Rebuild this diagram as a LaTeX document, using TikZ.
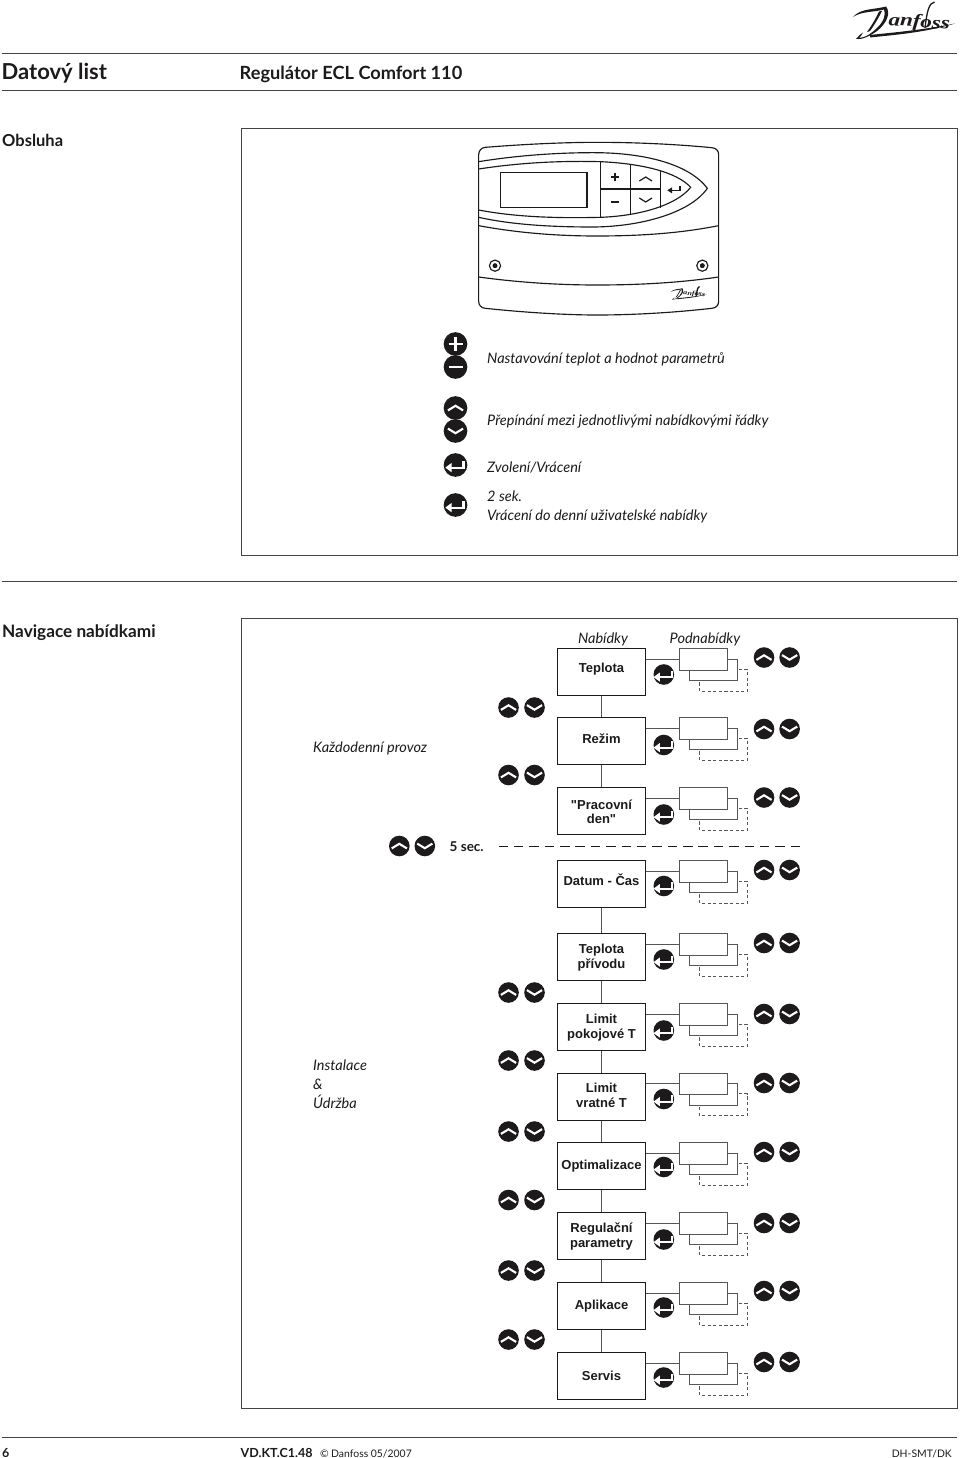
\documentclass[tikz,border=0pt]{standalone}
\usepackage{fontspec}
\setmainfont{Lato}
\newfontfamily\boxfont{Liberation Sans}
\newfontfamily\logofont{Liberation Serif}
\definecolor{ink}{HTML}{1C1A1B}
\definecolor{rule}{HTML}{444444}
\definecolor{conn}{HTML}{555555}
\tikzset{
  btn/.style={circle,fill=ink,draw=none,inner sep=0pt,minimum size={#1*20.6pt}},
  upbtn/.style={btn=#1,path picture={\draw[white,line width=2.1pt,shift={(path picture bounding box.center)},scale=#1] (-7.6,2.4) -- (0,-2.2) -- (7.6,2.4);}},
  upbtn/.default=1,
  downbtn/.style={btn=#1,path picture={\draw[white,line width=2.1pt,shift={(path picture bounding box.center)},scale=#1] (-7.6,-2.4) -- (0,2.2) -- (7.6,-2.4);}},
  downbtn/.default=1,
  enterbtn/.style={btn=#1,path picture={\begin{scope}[shift={(path picture bounding box.center)},scale=#1]\draw[white,line width=2.1pt] (-5,2.6) -- (8,2.6) -- (8,-3.8);\fill[white] (-10.2,2.6) -- (-4,-2) -- (-4,7.2) -- cycle;\end{scope}}},
  enterbtn/.default=1,
  plusbtn/.style={btn=#1,path picture={\draw[white,line width=2.8pt,shift={(path picture bounding box.center)},scale=#1] (-7,0) -- (7,0) (0,-7) -- (0,7);}},
  plusbtn/.default=1,
  minusbtn/.style={btn=#1,path picture={\draw[white,line width=2.8pt,shift={(path picture bounding box.center)},scale=#1] (-7,0) -- (7,0);}},
  minusbtn/.default=1,
  hrule/.style={draw=rule,line width=1pt},
  frame/.style={draw=rule,line width=1.1pt},
  menubox/.style={draw=ink,line width=1pt,fill=white,minimum width=88.5pt,minimum height=47pt,inner sep=0pt},
  menutext/.style={inner sep=0pt,align=center,text=ink,font=\boxfont\bfseries\fontsize{13}{14.8}\selectfont},
  subbox/.style={draw=conn,line width=1pt,fill=white,minimum width=48pt,minimum height=21.5pt,inner sep=0pt},
  chain/.style={draw=conn,line width=1.1pt},
  feed/.style={draw=conn,line width=1pt},
  dashsub/.style={draw=conn,line width=.9pt,dash pattern=on 3.2pt off 2.4pt},
  sepline/.style={draw=ink,line width=1.1pt,dash pattern=on 9.5pt off 5.875pt},
  lbl/.style={anchor=base west,inner sep=0pt,text=ink,font=\itshape\fontsize{14.5}{16}\selectfont},
  lblc/.style={anchor=base,inner sep=0pt,text=ink,font=\itshape\fontsize{14.5}{16}\selectfont},
  head/.style={anchor=base west,inner sep=0pt,text=ink,font=\bfseries\fontsize{#1}{#1}\selectfont},
  foot/.style={anchor=base west,inner sep=0pt,text=ink,font=\fontsize{10.4}{13}\selectfont},
  ctrl/.style={draw=ink,line width=1.15pt},
  pics/danfoss/.style={code={
    \fill[ink] (0,14) .. controls (8,5) and (20,7) .. (33,3.5) .. controls (38,10) and (34,20) .. (24,28) .. controls (17,33) and (9,37) .. (3,36) .. controls (5,33) and (8,31) .. (10,29.5) .. controls (9,32) and (7,34) .. (6,35) .. controls (12,35) and (19,30) .. (25,24) .. controls (31,18) and (33,11) .. (31,6.5) .. controls (20,9.5) and (9,8) .. (0,14) -- cycle;
    \fill[ink] (26,8.5) .. controls (23,15) and (19,22) .. (14,29) -- (17,28) .. controls (22,21) and (26,14) .. (29,8) -- cycle;
    \fill[ink] (17,32) .. controls (40,29.5) and (70,27) .. (102,20.5) .. controls (70,30) and (40,32) .. (17,34.5) -- cycle;
    \draw[ink,line width=1.3pt] (81.5,-1) .. controls (76,0) and (74,8) .. (72,25);
    \node[transform shape,anchor=base west,inner sep=0pt,rotate=-4,xscale=1.28,text=ink,font=\logofont\bfseries\itshape\fontsize{#1}{#1}\selectfont] (logoword) at (35,22) {anfoss};
  }}
}
\begin{document}
\begin{tikzpicture}[x=1pt,y=-1pt]
\useasboundingbox (0,0) rectangle (960,1458);
% rules
\coordinate (r1a) at (2,53.5); \coordinate (r1b) at (957,53.5);
\coordinate (r2a) at (2,90.3); \coordinate (r2b) at (957,90.3);
\coordinate (r3a) at (2,581.7); \coordinate (r3b) at (957,581.7);
\coordinate (r4a) at (2,1437.5); \coordinate (r4b) at (957,1437.5);
\draw[hrule] (r1a) -- (r1b);
\draw[hrule] (r2a) -- (r2b);
\draw[hrule] (r3a) -- (r3b);
\draw[hrule] (r4a) -- (r4b);
\pic at (853,3) {danfoss=18};
% headings
\node[head=22] (hData) at (1.5,79.5) {Datový list};
\node[head=18.2] (hReg) at (239.5,79.5) {Regulátor ECL Comfort 110};
\node[head=16.5] (hObs) at (2,146.5) {Obsluha};
\node[head=17.2] (hNav) at (2,637.5) {Navigace nabídkami};
% frames
\node[frame,minimum width=716pt,minimum height=427pt,inner sep=0pt,anchor=north west] (frameA) at (241,128) {};
\node[frame,minimum width=716pt,minimum height=790pt,inner sep=0pt,anchor=north west] (frameB) at (241,618.3) {};
% controller
\begin{scope}[shift={(460,130)},x=.33333pt,y=-.33333pt]
\draw[ctrl] (76,52) .. controls (200,42) and (320,37) .. (410,37) .. controls (520,37) and (640,42) .. (755,53) .. controls (768,54) and (776,62) .. (776,74) -- (776,514) .. controls (776,526) and (768,534) .. (755,535) .. controls (640,548) and (520,555) .. (410,555) .. controls (320,555) and (200,548) .. (76,535) .. controls (64,534) and (56,526) .. (56,514) -- (56,74) .. controls (56,62) and (64,53) .. (76,52) -- cycle;
\draw[ctrl] (56,95) .. controls (180,75) and (300,68) .. (400,68) .. controls (560,68) and (690,105) .. (742,175) .. controls (690,250) and (540,290) .. (400,291) .. controls (280,291) and (160,285) .. (56,262);
\draw[ctrl] (56,117) .. controls (180,98) and (300,92) .. (420,95) .. controls (540,100) and (650,125) .. (692,172) .. controls (650,225) and (540,258) .. (420,262) .. controls (300,265) and (170,262) .. (56,240);
\draw[ctrl] (122,127) rectangle (381,232);
\draw[ctrl] (421,97) -- (421,260);
\draw[ctrl] (511,105) -- (511,252);
\draw[ctrl] (601,124) -- (601,235);
\draw[ctrl] (421,177) -- (601,177);
\draw[line width=1.7pt,draw=ink] (453,140) -- (478,140) (465.5,128) -- (465.5,152);
\draw[line width=1.7pt,draw=ink] (453,217) -- (478,217);
\draw[line width=1.2pt,draw=ink] (538,153) -- (557,141) -- (576,153);
\draw[line width=1.2pt,draw=ink] (538,204) -- (557,216) -- (576,204);
\draw[line width=1.3pt,draw=ink] (632,181) -- (660,181) -- (660,168);
\fill[ink] (622,181) -- (636,172) -- (636,190) -- cycle;
\draw[ctrl] (56,287) .. controls (180,310) and (300,318) .. (410,318) .. controls (540,318) and (660,310) .. (776,287);
\draw[ctrl] (56,441) .. controls (180,458) and (300,465) .. (410,465) .. controls (540,465) and (660,458) .. (776,441);
\draw[ctrl] (105,407) circle[radius=5.6pt];
\fill[ink] (105,407) circle[radius=2.5pt];
\draw[ctrl] (727,407) circle[radius=5.6pt];
\fill[ink] (727,407) circle[radius=2.5pt];
\end{scope}
\pic[scale=.355] at (670.7,287) {danfoss=18};
% legend
\node[plusbtn=1.15] (bPlus) at (455.5,344) {};
\node[minusbtn=1.15] (bMinus) at (455.5,367) {};
\node[upbtn=1.15] (bUp) at (455.5,408) {};
\node[downbtn=1.15] (bDown) at (455.5,431) {};
\node[enterbtn=1.15] (bEntA) at (455.5,465) {};
\node[enterbtn=1.15] (bEntB) at (455.5,505) {};
\node[lbl] (tA) at (487,363) {Nastavování teplot a hodnot parametrů};
\node[lbl] (tB) at (487,425.5) {Přepínání mezi jednotlivými nabídkovými řádky};
\node[lbl] (tC) at (487,472.5) {Zvolení/Vrácení};
\node[lbl] (tD) at (487,501.5) {2 sek.};
\node[lbl] (tE) at (487,520) {Vrácení do denní uživatelské nabídky};
% navigation labels
\node[lblc] (tNab) at (603,643) {Nabídky};
\node[lblc] (tPod) at (705,643) {Podnabídky};
\node[lbl] (tKazd) at (313,752.5) {Každodenní provoz};
\node[lbl] (tIns) at (313,1070.5) {Instalace};
\node[lbl] (tAmp) at (313,1089.5) {\&};
\node[lbl] (tUdr) at (313,1108) {Údržba};
% menu rows
\foreach \n/\t/\e/\u/\o/\l in {
 1/648/674.5/657.5/3.2/{Teplota},
 2/717/745/729/1.8/{Režim},
 3/787/814.5/797.5/-0.7/{"Pracovní\\den"},
 4/860/886/870/4/{Datum - Čas},
 5/933/959.5/943/-0.7/{Teplota\\přívodu},
 6/1003/1030.5/1014/-0.5/{Limit\\pokojové T},
 7/1072.5/1099/1083/1.2/{Limit\\vratné T},
 8/1142/1167/1152/0/{Optimalizace},
 9/1212/1239.5/1223/-0.5/{Regulační\\parametry},
 10/1282/1307.5/1291/0/{Aplikace},
 11/1352/1377.5/1362/0.3/{Servis}}{
  \node[menubox,anchor=north] (m\n) at (601.5,\t) {};
  \node[menutext] (mt\n) at ([yshift=\o pt]m\n.center) {\l};
  \node[subbox,anchor=north west] (sb\n) at (688.5,\t+10.7) {};
  \node[subbox,anchor=north west] (sa\n) at (679,\t) {};
  \draw[feed] (sa\n.west) -- (sa\n.west -| m\n.east);
  \draw[dashsub] ([shift={(1,10.7)}]sb\n.north east) -- ++(8.7,0) -- ++(0,22) -- ++(-47.5,0) -- ++(0,-10.8);
  \node[enterbtn] (e\n) at (663.8,\e) {};
  \node[upbtn] (u\n) at (764,\u) {};
  \node[downbtn] (d\n) at (789.6,\u) {};
}
% chain
\foreach \a/\b in {1/2,2/3,4/5,5/6,6/7,7/8,8/9,9/10,10/11}{
  \draw[chain] (m\a.south) -- (m\b.north);
}
% left button pairs
\foreach \i/\y in {1/707.5,2/775,3/992.5,4/1060.5,5/1131.5,6/1200,7/1270.5,8/1339.5}{
  \node[upbtn] (lu\i) at (508.5,\y) {};
  \node[downbtn] (ld\i) at (534.5,\y) {};
}
% 5 sec
\node[upbtn] (su) at (399.3,846) {};
\node[downbtn] (sd) at (424.8,846) {};
\node[head=13.5] (t5s) at (449.5,851) {5 sec.};
\coordinate (sepA) at (498.5,846.3);
\coordinate (sepB) at (800,846.3);
\draw[sepline] (sepA) -- (sepB);
% footer
\node[head=12.5] (f6) at (2,1457) {6};
\node[head=12.5] (fVD) at (240.5,1457) {VD.KT.C1.48};
\node[foot] (fCop) at (320,1457) {©};
\node[foot] (fDan) at (331,1457) {Danfoss 05/2007};
\node[foot,anchor=base east] (fDH) at (952,1457) {DH-SMT/DK};
\end{tikzpicture}
\end{document}
